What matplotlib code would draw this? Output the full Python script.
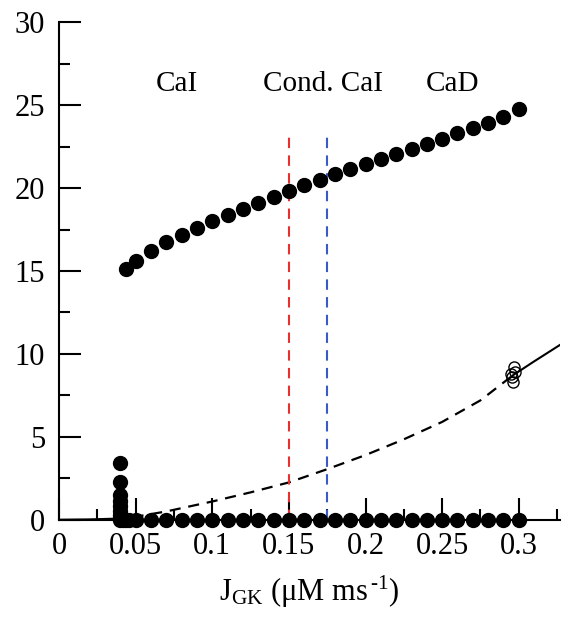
import matplotlib
matplotlib.use("Agg")
import matplotlib.pyplot as plt
from matplotlib.ticker import MultipleLocator

plt.rcParams['font.family'] = ['Liberation Serif', 'DejaVu Serif']
plt.rcParams['mathtext.fontset'] = 'custom'
plt.rcParams['mathtext.rm'] = 'Liberation Serif'
plt.rcParams['mathtext.it'] = 'Liberation Serif:italic'

# Upper branch (filled circles, oscillation max)
upper_x = [0.044, 0.05, 0.06, 0.07, 0.08, 0.09, 0.10, 0.11, 0.12, 0.13, 0.14, 0.15,
           0.16, 0.17, 0.18, 0.19, 0.20, 0.21, 0.22, 0.23, 0.24, 0.25, 0.26, 0.27,
           0.28, 0.29, 0.30]
upper_y = [15.15, 15.6, 16.2, 16.75, 17.2, 17.6, 18.0, 18.4, 18.75, 19.1, 19.45, 19.85,
           20.2, 20.5, 20.85, 21.15, 21.45, 21.75, 22.05, 22.35, 22.65, 22.95, 23.3, 23.6,
           23.95, 24.3, 24.75]

# Lower branch (filled circles, oscillation min)
lower_x = [0.040, 0.042, 0.044, 0.046, 0.05, 0.06, 0.07, 0.08, 0.09, 0.10, 0.11, 0.12,
           0.13, 0.14, 0.15, 0.16, 0.17, 0.18, 0.19, 0.20, 0.21, 0.22, 0.23, 0.24,
           0.25, 0.26, 0.27, 0.28, 0.29, 0.30]
lower_y = [0.0] * len(lower_x)

# Vertical stack of filled circles near the onset
stack_x = [0.040, 0.040, 0.040, 0.040, 0.040, 0.040, 0.040, 0.040]
stack_y = [3.4, 2.3, 1.5, 1.1, 0.8, 0.5, 0.3, 0.1]

# Steady-state branch: stable (solid) and unstable (dashed)
stable_left_x = [0.0, 0.02, 0.035, 0.048]
stable_left_y = [0.0, 0.02, 0.06, 0.15]
unstable_x = [0.048, 0.07, 0.10, 0.125, 0.15, 0.175, 0.20, 0.225, 0.25, 0.275, 0.296]
unstable_y = [0.15, 0.5, 1.1, 1.65, 2.25, 3.05, 3.9, 4.85, 5.9, 7.2, 8.7]
stable_right_x = [0.296, 0.31, 0.327]
stable_right_y = [8.7, 9.55, 10.55]

# Open circles (unstable periodic orbits)
open_x = [0.2955, 0.297, 0.296, 0.2975, 0.295]
open_y = [8.6, 9.2, 8.3, 8.9, 8.8]

# Region boundaries and labels
vline_x = [0.15, 0.175]
vline_colors = ['#e8312f', '#3a5bc7']
region_labels = ['CaI', 'Cond. CaI', 'CaD']
region_label_x = [0.077, 0.172, 0.257]
region_label_y = 25.85

fig = plt.figure(figsize=(5.67, 6.18), dpi=100)
ax = fig.add_axes([0.104, 0.159, 0.884, 0.805])

ax.plot(stable_left_x, stable_left_y, color='black', lw=1.5)
ax.plot(unstable_x, unstable_y, color='black', lw=1.6, ls=(0, (5, 3.5)))
ax.plot(stable_right_x, stable_right_y, color='black', lw=1.5)

for xv, c in zip(vline_x, vline_colors):
    ax.plot([xv, xv], [0, 23.2], color=c, lw=1.5, ls=(0, (5, 3.5)))

ms = 10
ax.plot(lower_x, lower_y, 'o', color='black', ms=ms, clip_on=False, zorder=5)
ax.plot(stack_x, stack_y, 'o', color='black', ms=ms, clip_on=False, zorder=5)
ax.plot(upper_x, upper_y, 'o', color='black', ms=ms, zorder=5)
ax.plot(open_x, open_y, 'o', mfc='none', mec='black', mew=1.0, ms=8, zorder=6)

for lab, lx in zip(region_labels, region_label_x):
    ax.text(lx, region_label_y, lab, ha='center', va='baseline', fontsize=21)

ax.set_xlim(0, 0.327)
ax.set_ylim(0, 30)
ax.spines['top'].set_visible(False)
ax.spines['right'].set_visible(False)
for s in ['left', 'bottom']:
    ax.spines[s].set_linewidth(1.5)

ax.xaxis.set_minor_locator(MultipleLocator(0.025))
ax.yaxis.set_minor_locator(MultipleLocator(2.5))
ax.set_xticks([0, 0.05, 0.1, 0.15, 0.2, 0.25, 0.3])
ax.set_xticklabels(['0', '0.05', '0.1', '0.15', '0.2', '0.25', '0.3'])
ax.set_yticks([0, 5, 10, 15, 20, 25, 30])
ax.set_yticklabels(['0', '5', '10', '15', '20', '25', '30'])
ax.tick_params(which='major', direction='in', length=16, width=1.5, labelsize=22)
ax.tick_params(which='minor', direction='in', length=8, width=1.5)
ax.tick_params(axis='x', which='both', pad=9)
ax.tick_params(axis='y', which='both', pad=10)

ax.set_xlabel(r'J$_{\mathrm{GK}}$ ($\mathrm{\mu}$M ms$^{\,\text{-}1}$)', fontsize=22, labelpad=9)

fig.savefig('out.png', dpi=100)
